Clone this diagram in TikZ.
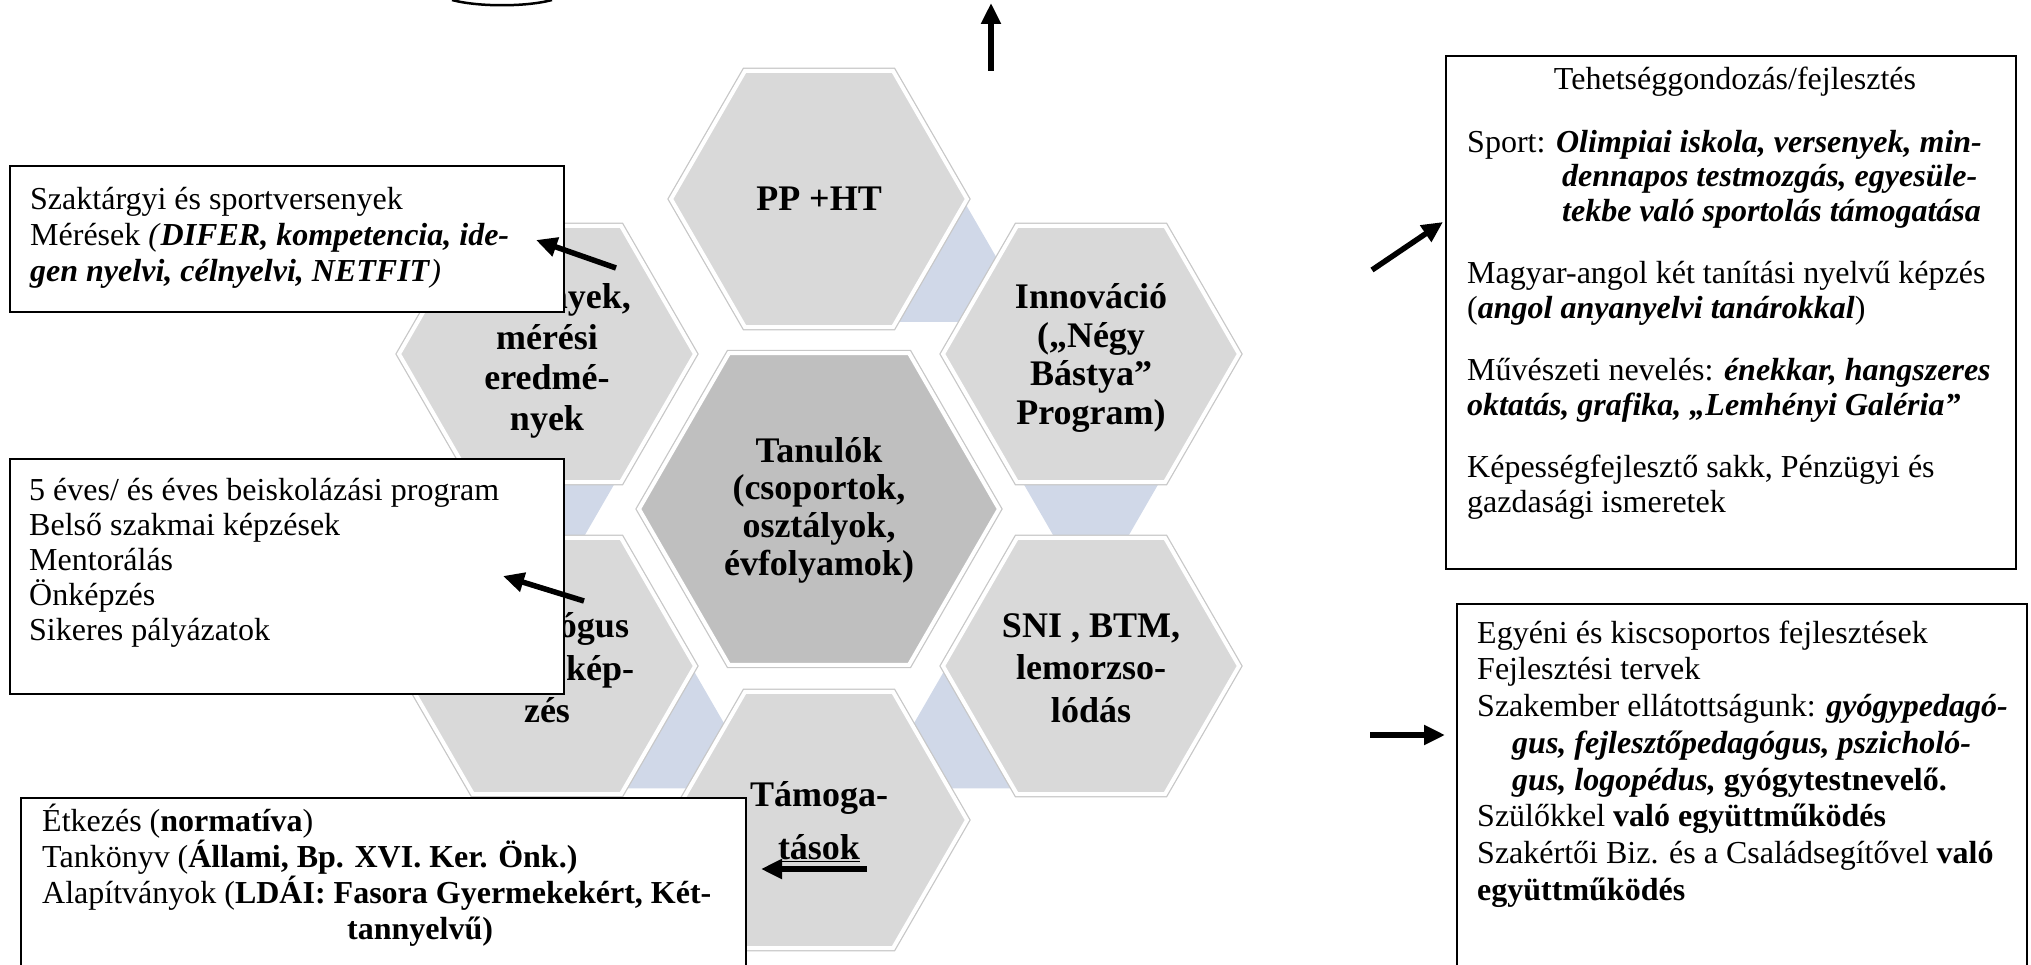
\documentclass[tikz,border=0pt]{standalone}
\usepackage{fontspec}
\setmainfont{Liberation Serif}
\usetikzlibrary{shapes.geometric,arrows.meta}
\definecolor{hexgray}{HTML}{D9D9D9}
\definecolor{hexdark}{HTML}{BFBFBF}
\definecolor{hexblue}{HTML}{D0D8E8}
\newcommand\bodyfont{\fontsize{32}{35}\selectfont\lineskiplimit=-100pt\relax}
\newcommand\bodyfonta{\fontsize{32}{36}\selectfont\lineskiplimit=-100pt\relax}
\newcommand\bodyfontb{\fontsize{32}{36.7}\selectfont\lineskiplimit=-100pt\relax}
\newcommand\bodyfontc{\fontsize{32}{34.5}\selectfont\lineskiplimit=-100pt\relax}
\newcommand\hexfont{\bfseries\fontsize{36}{38.5}\selectfont\lineskiplimit=-100pt\relax}
\newcommand\hexfontw{\bfseries\fontsize{36}{42.5}\selectfont\lineskiplimit=-100pt\relax}
\newcommand\hexfontu{\bfseries\fontsize{36}{40.5}\selectfont\lineskiplimit=-100pt\relax}
\newcommand\hexfontc{\bfseries\fontsize{36}{37.6}\selectfont\lineskiplimit=-100pt\relax}
\newcommand\bi[1]{\textbf{\textit{#1}}}
\begin{document}
\begin{tikzpicture}[x=1pt,y=-1pt,
  hexo/.style={regular polygon,regular polygon sides=6,minimum size=296pt,inner sep=0pt,outer sep=0pt,
    fill=hexgray,draw=white,line width=4pt,preaction={draw=black!22,line width=6.5pt}},
  hexc/.style={hexo,minimum size=360pt,fill=hexdark},
  hexb/.style={regular polygon,regular polygon sides=6,minimum size=144pt,inner sep=0pt,fill=hexblue,draw=none},
  hlabel/.style={font=\hexfont,align=center,inner sep=0pt},
  infobox/.style={draw=black,line width=2pt,fill=white,inner sep=0pt,anchor=north west},
  txt/.style={font=\bodyfont,align=left,inner sep=0pt,anchor=north west},
  arr/.style={line width=5.5pt,-{Triangle[length=21pt,width=19pt]}}]
\useasboundingbox (0,0) rectangle (2031,965);

% connector hexagons (partly hidden behind the outer hexagons)
\node[hexb] (c1) at (925.6,259.5) {};
\node[hexb] (c2) at (1091,476) {};
\node[hexb] (c3) at (984.4,726) {};
\node[hexb] (c4) at (653.6,726) {};
\node[hexb] (c5) at (547,476) {};

% outer hexagons
\node[hexo] (hpp) at (819,199) {};
\node[hexo] (hin) at (1091,354) {};
\node[hexo] (hsn) at (1091,666) {};
\node[hexo] (hta) at (819,820) {};
\node[hexo] (hll) at (547,666) {};
\node[hexo] (hul) at (547,354) {};
\node[hexc] (hce) at (819,509) {};

% hexagon labels
\node[hlabel] (lpp) at (819,199) {PP +HT};
\node[hlabel] (lin) at (1091,358) {Innováció\\(„Négy\\Bástya”\\Program)};
\node[hlabel,font=\hexfontw] (lsn) at (1091,668) {SNI , BTM,\\lemorzso-\\lódás};
\node[hlabel] (lta) at (819,822) {Támoga-\\[14.5pt]\underline{tások}};
\node[hlabel,font=\hexfontc] (lce) at (819,510) {Tanulók\\(csoportok,\\osztályok,\\évfolyamok)};
\node[hlabel,font=\hexfontu] (lul) at (547,361) {Versenyek,\\mérési\\eredmé-\\nyek};
\node[hlabel,font=\hexfontw] (lll) at (547,668) {Pedagógus\\továbbkép-\\zés};

% top arc
\coordinate (arcL) at (452,0);
\coordinate (arcR) at (552,0);
\draw[line width=2.5pt] (arcL) .. controls (478,7) and (526,7) .. (arcR);

% boxes
\node[infobox,minimum width=554pt,minimum height=146pt] (b1) at (9,165) {};
\node[txt,font=\bodyfonta] (t1) at (30,179) {\rule{0pt}{30pt}Szaktárgyi és sportversenyek\\
Mérések \textit{(}\bi{DIFER, kompetencia, ide-}\\
\bi{gen nyelvi, célnyelvi, NETFIT}\textit{)}};

\node[infobox,minimum width=554pt,minimum height=235pt] (b2) at (9,458) {};
\node[txt] (t2) at (29,470) {\rule{0pt}{30pt}5 éves/ és éves beiskolázási program\\
Belső szakmai képzések\\
Mentorálás\\
Önképzés\\
Sikeres pályázatok};

\node[infobox,minimum width=725pt,minimum height=220pt] (b3) at (20,797) {};
\node[txt,font=\bodyfonta] (t3) at (42,801) {\rule{0pt}{30pt}Étkezés (\textbf{normatíva})\\
Tankönyv (\textbf{Állami, Bp. XVI. Ker. Önk.)}\\
Alapítványok (\textbf{LDÁI: Fasora Gyermekekért, Két-}\\
\hspace*{305pt}\textbf{tannyelvű)}};

\node[infobox,minimum width=570pt,minimum height=513pt] (b4) at (1445,55) {};
\node[font=\bodyfont,inner sep=0pt,anchor=base] (t4h) at (1735,90) {Tehetséggondozás/fejlesztés};
\node[txt,font=\bodyfontc] (t4) at (1467,122) {\rule{0pt}{30pt}Sport: \bi{Olimpiai iskola, versenyek, min-}\\
\hspace*{95pt}\bi{dennapos testmozgás, egyesüle-}\\
\hspace*{95pt}\bi{tekbe való sportolás támogatása}\\[28pt]
Magyar-angol két tanítási nyelvű képzés\\
(\bi{angol anyanyelvi tanárokkal})\\[28pt]
Művészeti nevelés: \bi{énekkar, hangszeres}\\
\bi{oktatás, grafika, „Lemhényi Galéria”}\\[28pt]
Képességfejlesztő sakk, Pénzügyi és\\
gazdasági ismeretek};

\node[infobox,minimum width=570pt,minimum height=420pt] (b5) at (1456,603) {};
\node[txt,font=\bodyfontb] (t5) at (1477,613) {\rule{0pt}{30pt}Egyéni és kiscsoportos fejlesztések\\
Fejlesztési tervek\\
Szakember ellátottságunk: \bi{gyógypedagó-}\\
\hspace*{35pt}\bi{gus, fejlesztőpedagógus, pszicholó-}\\
\hspace*{35pt}\bi{gus, logopédus,} \textbf{gyógytestnevelő.}\\
Szülőkkel \textbf{való együttműködés}\\
Szakértői Biz. és a Családsegítővel \textbf{való}\\
\textbf{együttműködés}};

% arrows
\coordinate (aAs) at (616,268); \coordinate (aAe) at (536,240);
\coordinate (aBs) at (584,601); \coordinate (aBe) at (503,576);
\coordinate (aCs) at (867,869); \coordinate (aCe) at (761,869);
\coordinate (aDs) at (1372,270); \coordinate (aDe) at (1443,222);
\coordinate (aEs) at (1370,735); \coordinate (aEe) at (1445,735);
\coordinate (aUs) at (991,71); \coordinate (aUe) at (991,3);
\draw[arr] (aAs) -- (aAe);
\draw[arr] (aBs) -- (aBe);
\draw[arr] (aCs) -- (aCe);
\draw[arr] (aDs) -- (aDe);
\draw[arr] (aEs) -- (aEe);
\draw[arr] (aUs) -- (aUe);
\end{tikzpicture}
\end{document}
